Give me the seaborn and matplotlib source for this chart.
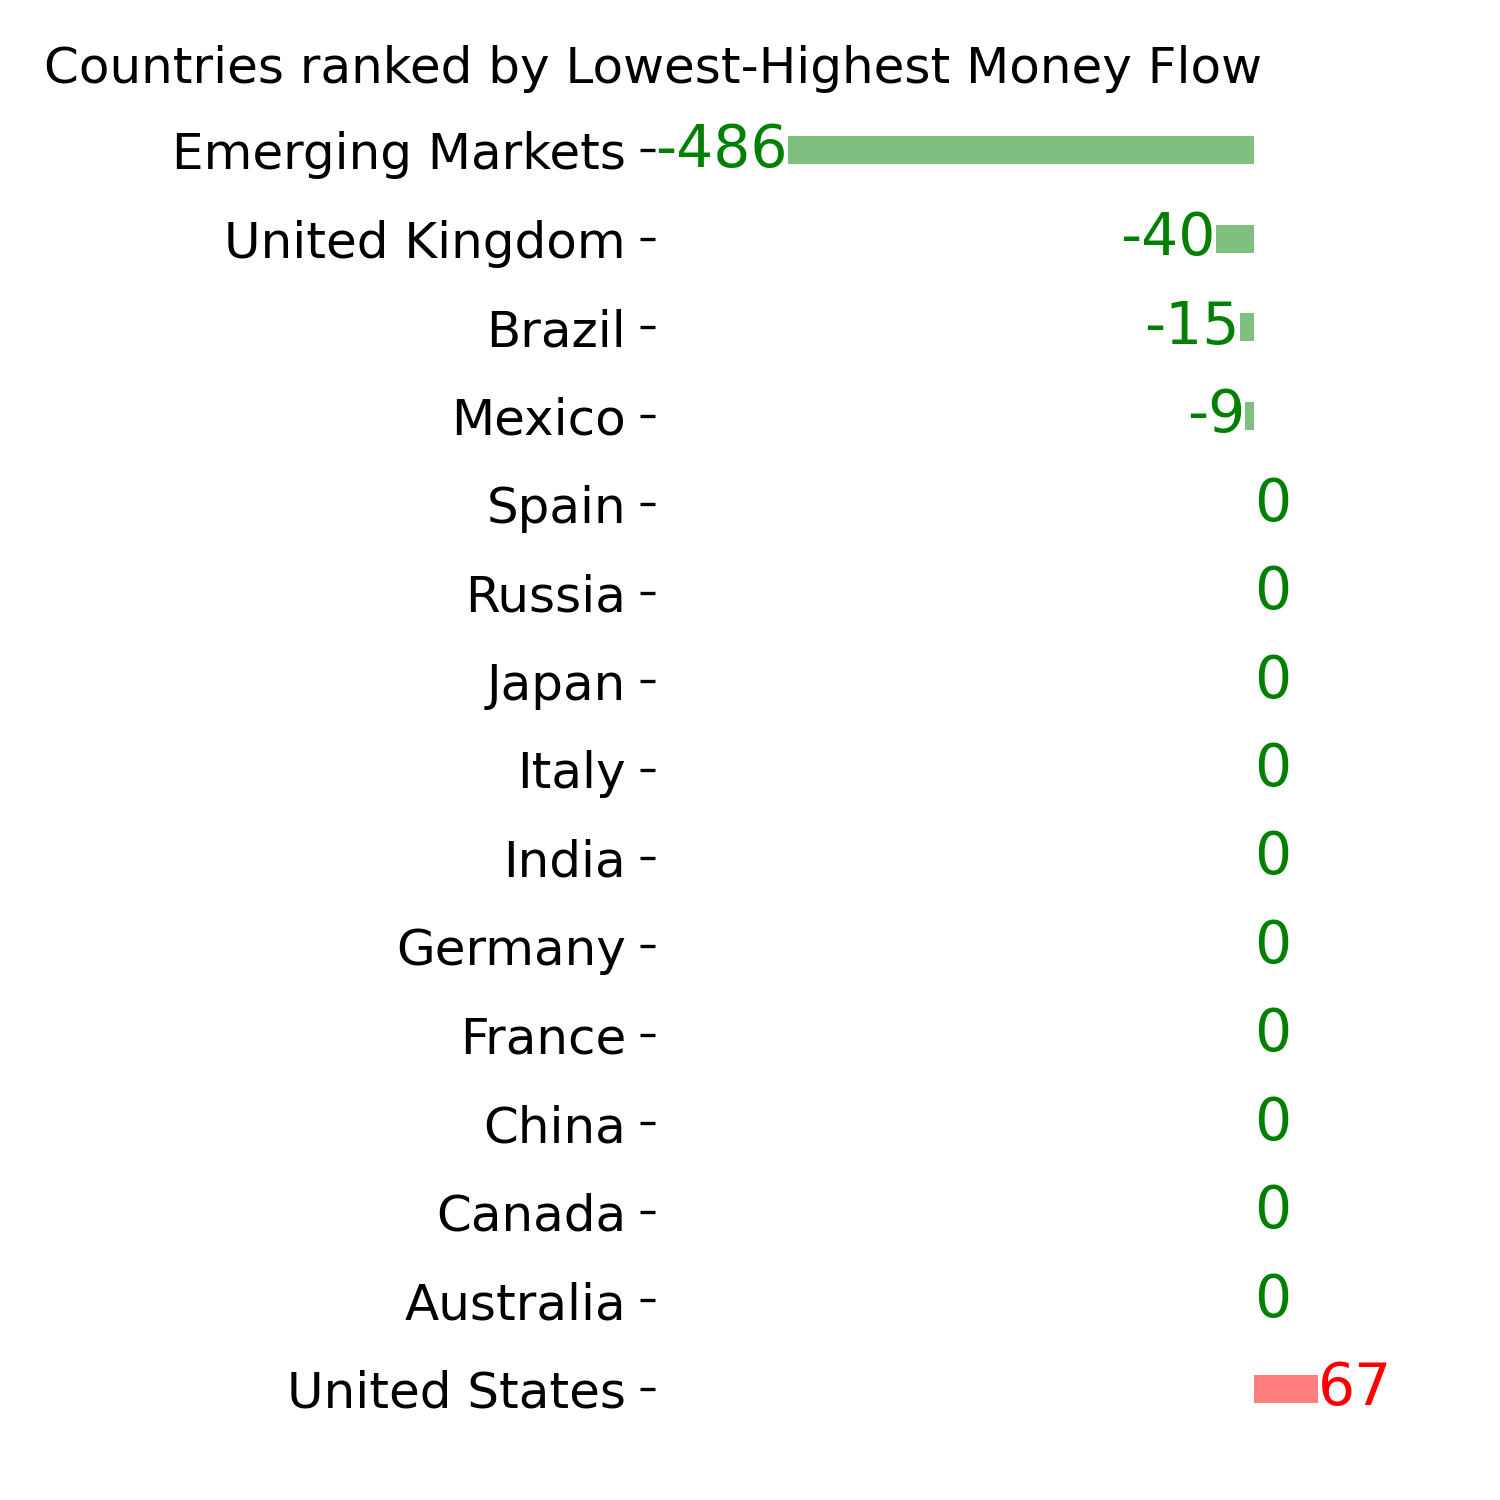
import matplotlib
matplotlib.use("Agg")
import matplotlib.pyplot as plt
import seaborn as sns
import pandas as pd

# Money flow per country, ordered lowest -> highest
countries = ["Emerging Markets", "United Kingdom", "Brazil", "Mexico", "Spain",
             "Russia", "Japan", "Italy", "India", "Germany", "France", "China",
             "Canada", "Australia", "United States"]
flows = [-486, -40, -15, -9, 0, 0, 0, 0, 0, 0, 0, 0, 0, 0, 67]

df = pd.DataFrame({"Country": countries, "Flow": flows})
df["Sign"] = ["pos" if v > 0 else "neg" for v in flows]

fig = plt.figure(figsize=(5, 5), dpi=300)
ax = fig.add_axes([0.4367, 0.0447, 0.4633, 0.8846])

sns.barplot(data=df, x="Flow", y="Country", hue="Sign", order=countries,
            palette={"neg": "green", "pos": "red"}, alpha=0.5, width=0.32,
            saturation=1, dodge=False, legend=False, orient="h", ax=ax)

# value labels at bar ends
for i, v in enumerate(flows):
    ax.text(v, i, str(v), fontsize=14, va="center",
            ha="right" if v < 0 else "left",
            color="red" if v > 0 else "green")

ax.set_xlim(-624, 100)
ax.set_xlabel("")
ax.set_ylabel("")
ax.set_xticks([])
ax.tick_params(axis="y", labelsize=12)
for s in ax.spines.values():
    s.set_visible(False)

ax.set_title("Countries ranked by Lowest-Highest Money Flow", fontsize=12,
             x=-0.003, pad=5.5)

fig.savefig("out.png", dpi=300)
